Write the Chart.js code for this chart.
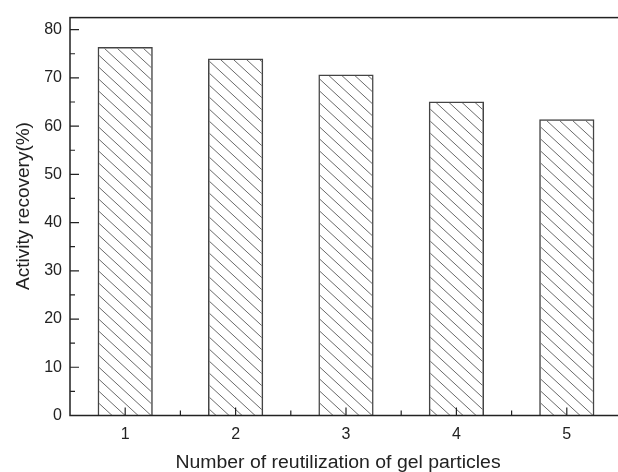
<!DOCTYPE html>
<html>
<head>
<meta charset="utf-8">
<script src="https://cdn.jsdelivr.net/npm/chart.js@4"></script>
<style>
  html, body { margin: 0; padding: 0; background: #fff; overflow: hidden; }
  #wrap { width: 630px; height: 472px; }
</style>
</head>
<body>
<div id="wrap"><canvas id="recoveryChart" width="630" height="472"></canvas></div>
<script>
// reuse cycles and measured activity recovery
const cycles = ["1", "2", "3", "4", "5"];
const recovery = [76.4, 74.0, 70.7, 65.1, 61.4];
const yTicks = [0, 10, 20, 30, 40, 50, 60, 70, 80];
const yMinor = [5, 15, 25, 35, 45, 55, 65, 75];

const FONT = "'Liberation Sans', Arial, sans-serif";
const INK = "#222";

// back-slash hatch tile for the bars
function hatchPattern() {
  const w = 13, h = 12;
  const c = document.createElement("canvas");
  c.width = w; c.height = h;
  const g = c.getContext("2d");
  g.strokeStyle = "#6a6a6a";
  g.lineWidth = 1;
  g.beginPath();
  g.moveTo(-w, -h); g.lineTo(2 * w, 2 * h);
  g.moveTo(0, -h); g.lineTo(2 * w, h);
  g.moveTo(-w, 0); g.lineTo(w, 2 * h);
  g.stroke();
  return g.createPattern(c, "repeat");
}

// frame, inward ticks and axis titles
const framePlugin = {
  id: "frame",
  afterDraw(chart) {
    const { ctx, chartArea: a, scales } = chart;
    const x = scales.x, y = scales.y;
    ctx.save();
    ctx.strokeStyle = INK;
    ctx.lineWidth = 1.5;
    ctx.strokeRect(a.left, a.top, a.right - a.left, a.bottom - a.top);

    ctx.beginPath();
    yTicks.forEach(v => { const p = y.getPixelForValue(v); ctx.moveTo(a.left, p); ctx.lineTo(a.left + 9, p); });
    yMinor.forEach(v => { const p = y.getPixelForValue(v); ctx.moveTo(a.left, p); ctx.lineTo(a.left + 5, p); });
    cycles.forEach((c, i) => {
      const p = x.getPixelForValue(i);
      ctx.moveTo(p, a.bottom); ctx.lineTo(p, a.bottom - 8);
      if (i > 0) {
        const m = (p + x.getPixelForValue(i - 1)) / 2;
        ctx.moveTo(m, a.bottom); ctx.lineTo(m, a.bottom - 5);
      }
    });
    ctx.lineWidth = 1.2;
    ctx.stroke();

    ctx.fillStyle = INK;
    ctx.textAlign = "center";
    ctx.textBaseline = "alphabetic";
    ctx.font = "18px " + FONT;
    ctx.save();
    ctx.translate(338, 467.5);
    ctx.scale(1.08, 1);
    ctx.fillText("Number of reutilization of gel particles", 0, 0);
    ctx.restore();

    ctx.font = "19px " + FONT;
    ctx.translate(28.5, 206);
    ctx.rotate(-Math.PI / 2);
    ctx.fillText("Activity recovery(%)", 0, 0);
    ctx.restore();
  }
};

new Chart(document.getElementById("recoveryChart"), {
  type: "bar",
  data: {
    labels: cycles,
    datasets: [{
      data: recovery,
      backgroundColor: hatchPattern(),
      borderColor: "#444",
      borderWidth: 1.5,
      categoryPercentage: 1,
      barPercentage: 0.5
    }]
  },
  options: {
    responsive: false,
    animation: false,
    layout: { padding: { top: 13, right: 8, left: 0, bottom: 0 } },
    plugins: { legend: { display: false }, tooltip: { enabled: false } },
    scales: {
      x: {
        offset: true,
        grid: { display: false, drawTicks: false },
        border: { display: false },
        ticks: { color: INK, font: { family: FONT, size: 16 }, padding: 9 },
        afterFit(s) { s.height = 56.5; }
      },
      y: {
        min: 0,
        max: 82.5,
        grid: { display: false, drawTicks: false },
        border: { display: false },
        afterBuildTicks(s) { s.ticks = yTicks.map(v => ({ value: v })); },
        ticks: { color: INK, font: { family: FONT, size: 16 }, padding: 8 },
        afterFit(s) { s.width = 70; }
      }
    }
  },
  plugins: [framePlugin]
});
</script>
</body>
</html>
